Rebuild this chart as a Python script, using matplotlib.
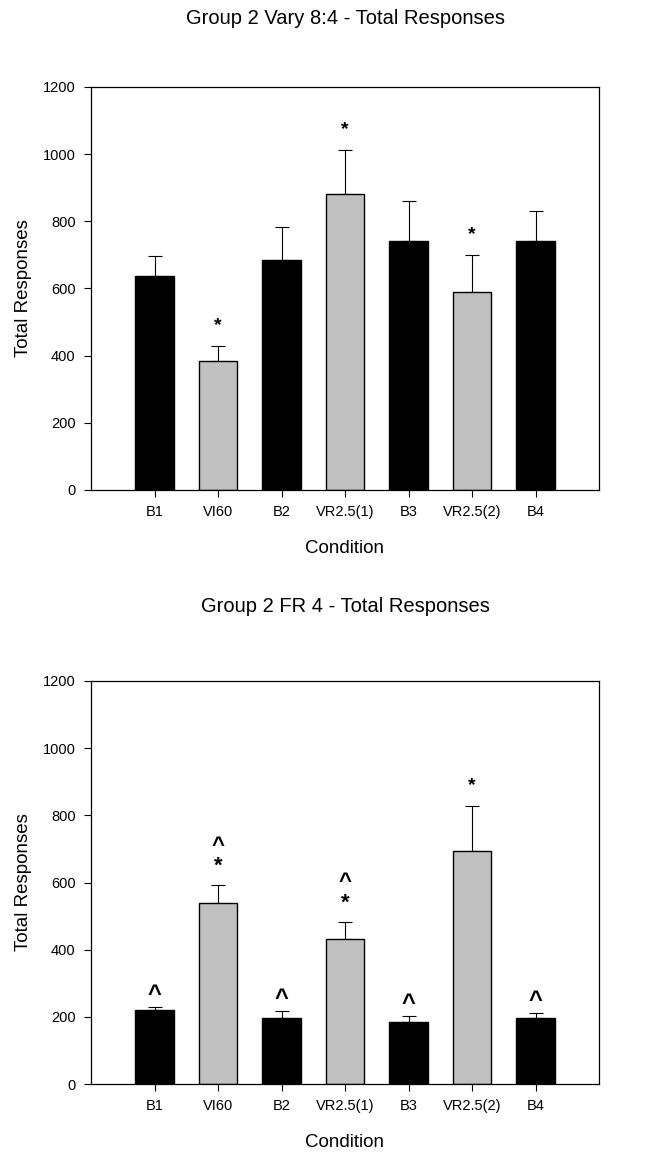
import numpy as np
import matplotlib
matplotlib.use("Agg")
import matplotlib.pyplot as plt

plt.rcParams['font.family'] = ['Liberation Sans', 'DejaVu Sans']

conditions = ["B1", "VI60", "B2", "VR2.5(1)", "B3", "VR2.5(2)", "B4"]
barColors = ["black", "#c0c0c0", "black", "#c0c0c0", "black", "#c0c0c0", "black"]

# Group 2 Vary 8:4
varyMeans = [636, 383, 685, 882, 742, 590, 742]
varyErrors = [60, 47, 98, 131, 120, 111, 90]
varyMarks = ["", "*", "", "*", "", "*", ""]

# Group 2 FR 4
frMeans = [219, 540, 198, 431, 184, 693, 198]
frErrors = [10, 52, 20, 52, 19, 134, 13]
frMarks = ["^", "^\n*", "^", "^\n*", "^", "*", "^"]

yTicks = [0, 200, 400, 600, 800, 1000, 1200]


def drawPanel(ax, means, errors, marks):
    x = np.arange(len(conditions))
    ax.bar(x, means, width=0.6, color=barColors, edgecolor="black", linewidth=1.0, zorder=2)
    ax.errorbar(x, means, yerr=[np.zeros(len(errors)), errors], fmt="none",
                ecolor="black", elinewidth=0.8, capsize=5, capthick=0.8, zorder=1)
    for xi, m, e, mark in zip(x, means, errors, marks):
        if not mark:
            continue
        if mark == "*":
            off, fs, ls = 16, 14, 1.2
        elif mark == "^":
            off, fs, ls = 6, 17, 1.2
        else:
            # caret stacked on a star, kept as one text
            off, fs, ls = 13, 16, 0.98
        ax.annotate(mark, (xi, m + e), xytext=(0, off), textcoords="offset pixels",
                    ha="center", va="baseline", fontsize=fs, fontweight="bold",
                    linespacing=ls)
    ax.set_xlim(-1, 7)
    ax.set_ylim(0, 1200)
    ax.set_xticks(x)
    ax.set_xticklabels(conditions, fontsize=10.5)
    ax.set_yticks(yTicks)
    ax.set_yticklabels([str(t) for t in yTicks], fontsize=10.5)
    ax.tick_params(direction="out", length=5, width=0.8, pad=6)
    for s in ax.spines.values():
        s.set_linewidth(0.9)
    ax.set_xlabel("Condition", fontsize=13.5, labelpad=15)
    ax.set_ylabel("Total Responses", fontsize=13.5, labelpad=8)


fig = plt.figure(figsize=(6.7, 11.56), dpi=100)
axTop = fig.add_axes([91 / 670, 1 - 490 / 1156, 508 / 670, 403 / 1156])
axBot = fig.add_axes([91 / 670, 1 - 1084 / 1156, 508 / 670, 403 / 1156])

drawPanel(axTop, varyMeans, varyErrors, varyMarks)
drawPanel(axBot, frMeans, frErrors, frMarks)

fig.text(345 / 670, 1 - 18 / 1156, "Group 2 Vary 8:4 - Total Responses", ha="center", va="center", fontsize=14.5)
fig.text(345 / 670, 1 - 607 / 1156, "Group 2 FR 4 - Total Responses", ha="center", va="center", fontsize=14.5)

fig.savefig("out.png", dpi=100)
